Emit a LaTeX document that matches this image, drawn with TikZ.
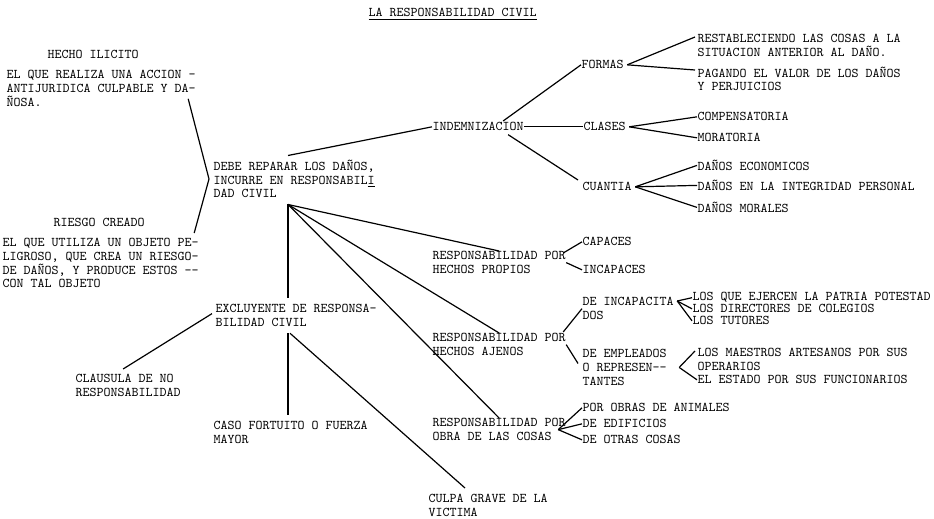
\documentclass[tikz,border=0pt]{standalone}
\usetikzlibrary{calc}

\tikzset{every picture/.style={line width=0.9pt}}
\tikzset{lbl/.style={anchor=north west, inner sep=0pt, align=left, font=\fontsize{10}{10.2}\selectfont\ttfamily}}

\begin{document}
\begin{tikzpicture}[x=0.75pt,y=0.75pt,yscale=-1,xscale=1]
\useasboundingbox (0,0) rectangle (934,518);

% Text Node
\node [lbl] (titulo) at (368,8) {\underline{LA RESPONSABILIDAD CIVIL}};
% Text Node
\node [lbl] (hecho) at (47,50) {HECHO ILICITO};
\node [lbl] (hechotxt) at (6,70) {EL QUE REALIZA UNA ACCION -\\ANTIJURIDICA CULPABLE Y DA-\\ÑOSA.};
% Text Node
\node [lbl] (riesgo) at (53,218) {RIESGO CREADO};
\node [lbl] (riesgotxt) at (2,238) {EL QUE UTILIZA UN OBJETO PE-\\LIGROSO, QUE CREA UN RIESGO-\\DE DAÑOS, Y PRODUCE ESTOS --\\CON TAL OBJETO};
% Text Node
\node [lbl] (debe) at (213,159.5) {DEBE REPARAR LOS DAÑOS,\\INCURRE EN RESPONSABIL\underline{I}\\DAD CIVIL};
% Text Node
\node [lbl] (indem) at (432,122) {INDEMNIZACION};
\node [lbl] (formas) at (581,60) {FORMAS};
\node [lbl] (clases) at (583,122) {CLASES};
\node [lbl] (cuantia) at (582,182) {CUANTIA};
% Text Node
\node [lbl] (restab) at (697,34) {RESTABLECIENDO LAS COSAS A LA\\SITUACION ANTERIOR AL DAÑO.};
\node [lbl] (pagando) at (697,66) {PAGANDO EL VALOR DE LOS DAÑOS\\Y PERJUICIOS};
\node [lbl] (compens) at (697,112) {COMPENSATORIA};
\node [lbl] (morat) at (697,133) {MORATORIA};
\node [lbl] (danecon) at (697,159.5) {DAÑOS ECONOMICOS};
\node [lbl] (danint) at (697,179.5) {DAÑOS EN LA INTEGRIDAD PERSONAL};
\node [lbl] (danmor) at (697,201.5) {DAÑOS MORALES};
% Text Node
\node [lbl] (propios) at (432,251) {RESPONSABILIDAD POR\\HECHOS PROPIOS};
\node [lbl] (capaces) at (582,237) {CAPACES};
\node [lbl] (incapaces) at (582,265) {INCAPACES};
% Text Node
\node [lbl] (ajenos) at (432,333) {RESPONSABILIDAD POR\\HECHOS AJENOS};
\node [lbl] (incapac) at (582,297) {DE INCAPACITA\\DOS};
\node [lbl] (empleados) at (582,349) {DE EMPLEADOS\\O REPRESEN--\\TANTES};
\node [lbl] (patria) at (692,292) {LOS QUE EJERCEN LA PATRIA POTESTAD};
\node [lbl] (directores) at (692,304) {LOS DIRECTORES DE COLEGIOS};
\node [lbl] (tutores) at (692,316) {LOS TUTORES};
\node [lbl] (maestros) at (697,348) {LOS MAESTROS ARTESANOS POR SUS\\OPERARIOS};
\node [lbl] (estado) at (697,375) {EL ESTADO POR SUS FUNCIONARIOS};
% Text Node
\node [lbl] (cosas) at (432,418) {RESPONSABILIDAD POR\\OBRA DE LAS COSAS};
\node [lbl] (porobras) at (582,403) {POR OBRAS DE ANIMALES};
\node [lbl] (edificios) at (582,419) {DE EDIFICIOS};
\node [lbl] (otras) at (582,435) {DE OTRAS COSAS};
% Text Node
\node [lbl] (excl) at (215,304) {EXCLUYENTE DE RESPONSA-\\BILIDAD CIVIL};
\node [lbl] (clausula) at (75,374) {CLAUSULA DE NO\\RESPONSABILIDAD};
\node [lbl] (caso) at (213,421) {CASO FORTUITO O FUERZA\\MAYOR};
\node [lbl] (culpa) at (428,494) {CULPA GRAVE DE LA\\VICTIMA};

\coordinate (apex) at ($(debe.west)+(-4,0)$);
\coordinate (hub) at ($(debe.south west)+(75,6)$);

%Straight Lines
\draw ($(hechotxt.south east)+(-8,-8)$) -- (apex) -- ($(riesgotxt.north east)+(-5,-5)$);
%Straight Lines
\draw ($(debe.north west)+(75,-4)$) -- (indem.west);
\draw ($(indem.north)+(25,-1)$) -- (formas.west);
\draw (indem.east) -- (clases.west);
\draw ($(indem.south)+(30,3)$) -- ($(cuantia.north west)+(-4,-2)$);
%Straight Lines
\draw ($(formas.east)+(3,0)$) -- ($(restab.north west)+(-2,3)$);
\draw ($(formas.east)+(3,0)$) -- ($(pagando.north west)+(-2,4)$);
\draw ($(clases.east)+(3,0)$) -- (compens.west);
\draw ($(clases.east)+(3,0)$) -- (morat.west);
\draw ($(cuantia.east)+(3,0)$) -- (danecon.west);
\draw ($(cuantia.east)+(3,0)$) -- (danint.west);
\draw ($(cuantia.east)+(3,0)$) -- (danmor.west);
%Straight Lines
\draw (hub) -- (propios.north);
\draw (hub) -- (ajenos.north);
\draw (hub) -- (cosas.north);
\draw (hub) -- ($(hub |- excl.north)+(0,-6)$);
%Straight Lines
\draw ($(propios.north east)+(-3,2)$) -- (capaces.west);
\draw (propios.east) -- (incapaces.west);
\draw ($(ajenos.north east)+(-3,-1)$) -- (incapac.west);
\draw (ajenos.east) -- ($(empleados.west)+(-4,-4)$);
\draw ($(incapac.north east)+(3,4)$) -- (patria.west);
\draw ($(incapac.north east)+(3,4)$) -- (directores.west);
\draw ($(incapac.north east)+(3,4)$) -- (tutores.west);
\draw ($(empleados.east)+(12,0)$) -- ($(maestros.north west)+(-2,3)$);
\draw ($(empleados.east)+(12,0)$) -- (estado.west);
\draw ($(cosas.east)+(-8,0)$) -- (porobras.west);
\draw ($(cosas.east)+(-8,0)$) -- (edificios.west);
\draw ($(cosas.east)+(-8,0)$) -- (otras.west);
%Straight Lines
\draw ($(excl.west)+(-3,-2)$) -- ($(clausula.north)+(-5,-5)$);
\draw ($(hub |- excl.south)+(0,6)$) -- ($(hub |- caso.north)+(0,-6)$);
\draw ($(hub |- excl.south)+(2,6)$) -- ($(culpa.north west)+(37,-6)$);

\end{tikzpicture}
\end{document}
